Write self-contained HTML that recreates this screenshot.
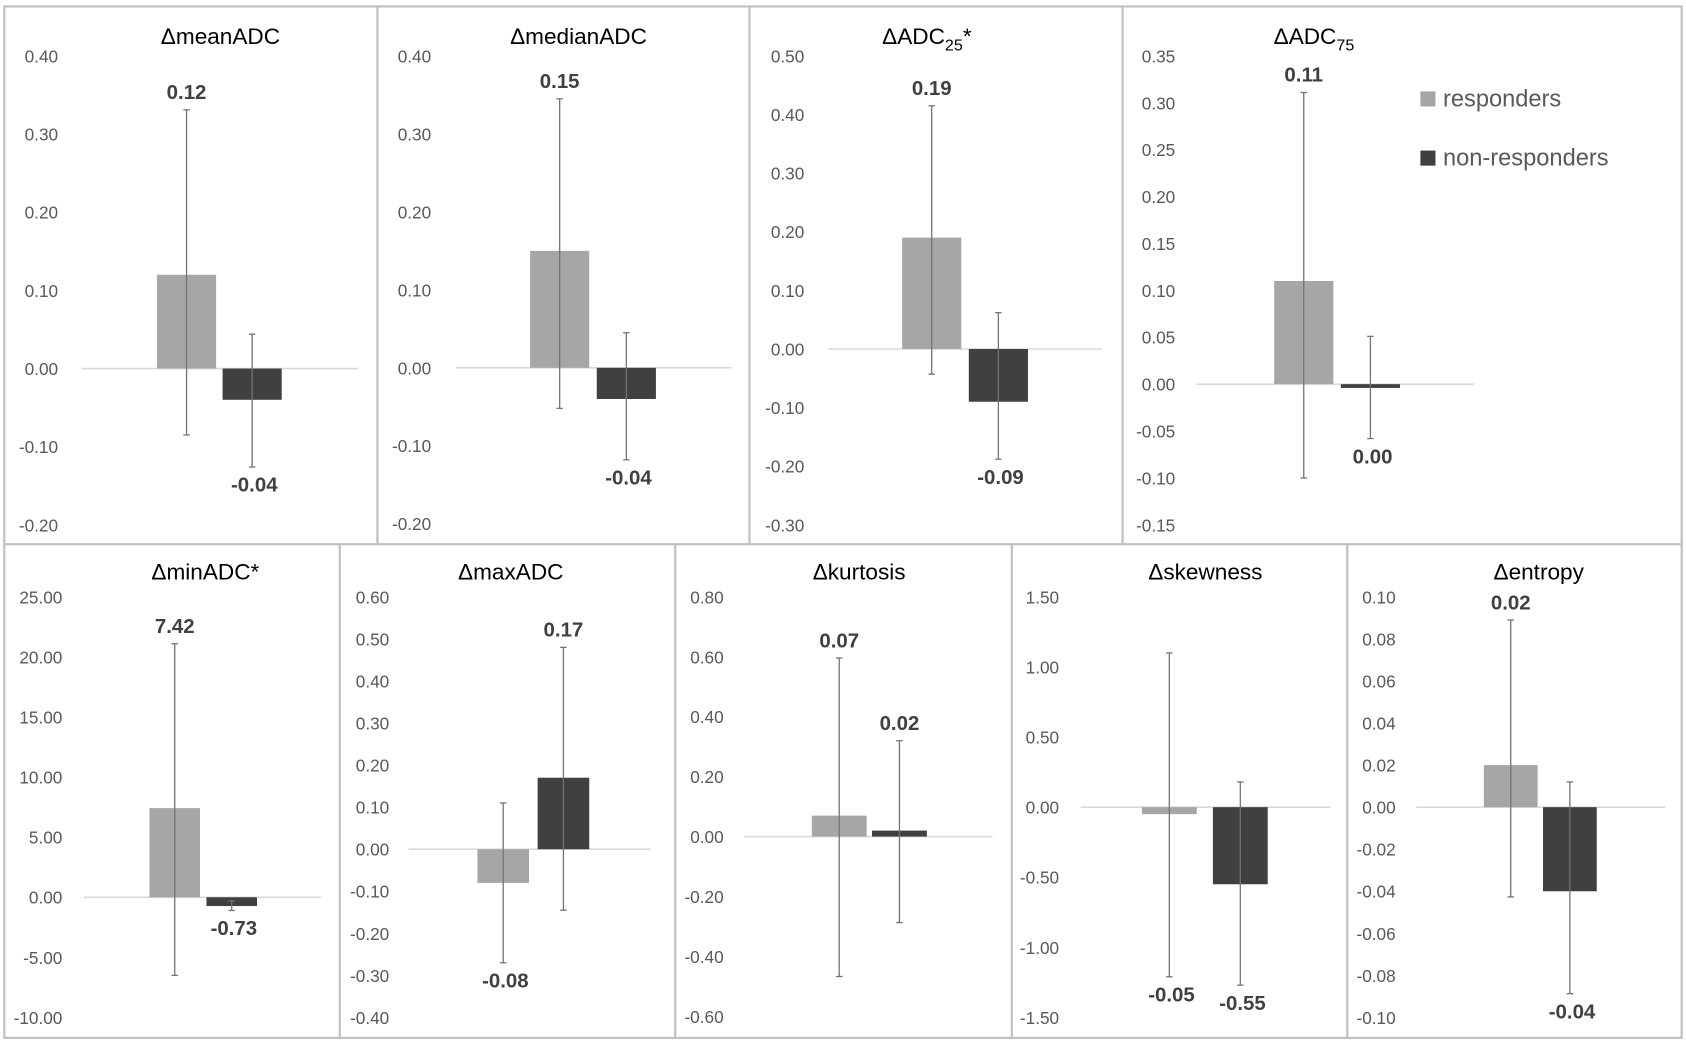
<!DOCTYPE html>
<html><head><meta charset="utf-8">
<style>
html,body{margin:0;padding:0;background:#fff;}
svg{display:block;font-family:"Liberation Sans",sans-serif;}
.tick{font-size:16px;fill:#595959;}
.val{font-size:19px;font-weight:bold;fill:#404040;}
.ttl{font-size:21px;fill:#000;}
</style></head>
<body>
<svg id="chart" width="1686" height="1040" viewBox="0 0 1568 967" preserveAspectRatio="none" xmlns="http://www.w3.org/2000/svg">
<rect x="0" y="0" width="1568" height="967" fill="#fff"/>
<g id="frame" stroke="#bfbfbf" stroke-width="2" fill="none">
<rect x="4" y="6" width="1560" height="959"/>
<line x1="4" y1="506" x2="1564" y2="506"/>
<line x1="351" y1="6" x2="351" y2="506"/>
<line x1="697" y1="6" x2="697" y2="506"/>
<line x1="1044" y1="6" x2="1044" y2="506"/>
<line x1="316" y1="506" x2="316" y2="965"/>
<line x1="628" y1="506" x2="628" y2="965"/>
<line x1="941" y1="506" x2="941" y2="965"/>
<line x1="1253" y1="506" x2="1253" y2="965"/>
</g>
<g id="legend">
<rect x="1321" y="85" width="14" height="14" fill="#a6a6a6"/>
<text x="1342" y="99" font-size="22" fill="#595959">responders</text>
<rect x="1321" y="140" width="14" height="14" fill="#404040"/>
<text x="1342" y="154" font-size="22" fill="#595959">non-responders</text>
</g>
</svg>
<script>
// ---- data ----
const categories = ["meanADC","medianADC","ADC25","ADC75","minADC","maxADC","kurtosis","skewness","entropy"];
const respValues = [0.12, 0.15, 0.19, 0.11, 7.42, -0.08, 0.07, -0.05, 0.02];
const nonValues  = [-0.04, -0.04, -0.09, -0.004, -0.73, 0.17, 0.02, -0.55, -0.04];
const respErrHi  = [0.331, 0.345, 0.415, 0.311, 21.1, 0.11, 0.596, 1.10, 0.089];
const respErrLo  = [-0.085, -0.052, -0.043, -0.100, -6.5, -0.27, -0.467, -1.21, -0.0427];
const nonErrHi   = [0.044, 0.045, 0.062, 0.051, -0.3, 0.48, 0.32, 0.18, 0.012];
const nonErrLo   = [-0.126, -0.118, -0.188, -0.058, -1.1, -0.145, -0.287, -1.27, -0.0887];
const tickMin    = [-0.20, -0.20, -0.30, -0.15, -10, -0.40, -0.60, -1.50, -0.10];
const tickMax    = [0.40, 0.40, 0.50, 0.35, 25, 0.60, 0.80, 1.50, 0.10];
const tickStep   = [0.10, 0.10, 0.10, 0.05, 5, 0.10, 0.20, 0.50, 0.02];

// ---- layout (pixel geometry, not data) ----
const layout = [
 {top:52,bot:488,labX:54,baseL:76,baseR:333,bar1:146,bar2:207,bw:55,titleX:205,titleY:41},
 {top:52,bot:487,labX:401,baseL:424,baseR:680,bar1:493,bar2:555,bw:55,titleX:538,titleY:41},
 {top:52,bot:488,labX:748,baseL:770,baseR:1025,bar1:839,bar2:901,bw:55,titleX:862,titleY:41},
 {top:52,bot:488,labX:1093,baseL:1113,baseR:1371,bar1:1185,bar2:1247,bw:55,titleX:1222,titleY:41},
 {top:555,bot:946,labX:58,baseL:78,baseR:299,bar1:139,bar2:192,bw:47,titleX:191,titleY:539},
 {top:555,bot:946,labX:362,baseL:380,baseR:605,bar1:444,bar2:500,bw:48,titleX:475,titleY:539},
 {top:555,bot:945,labX:673,baseL:692,baseR:923,bar1:755,bar2:811,bw:51,titleX:799,titleY:539},
 {top:555,bot:946,labX:985,baseL:1005,baseR:1237,bar1:1062,bar2:1128,bw:51,titleX:1121,titleY:539},
 {top:555,bot:946,labX:1298,baseL:1317,baseR:1549,bar1:1380,bar2:1435,bw:50,titleX:1431,titleY:539}
];
const NS="http://www.w3.org/2000/svg";
const svg=document.getElementById('chart');
function mk(tag,attrs,parent){const e=document.createElementNS(NS,tag);for(const k in attrs)e.setAttribute(k,attrs[k]);parent.appendChild(e);return e;}
function fmt(v){const s=Math.abs(v)<0.005?"0.00":v.toFixed(2);return s;}

categories.forEach((cat,i)=>{
  const L=layout[i];
  const g=mk('g',{},svg);
  
  
  const y=v=>L.top+(tickMax[i]-v)/(tickMax[i]-tickMin[i])*(L.bot-L.top);
  // title
  const t=mk('text',{x:L.titleX,y:L.titleY,'text-anchor':'middle',class:'ttl'},g);
  
  
  const m=cat.match(/^ADC(\d+)$/);
  if(m){
    t.appendChild(document.createTextNode('\u0394ADC'));
    const s=mk('tspan',{'font-size':'15','dy':'6'},t);s.textContent=m[1];
    if(cat==='ADC25'){const st=mk('tspan',{'dy':'-6'},t);st.textContent='*';}
  } else {
    t.textContent='\u0394'+cat+(cat==='minADC'?'*':'');
  }
  // ticks
  const n=Math.round((tickMax[i]-tickMin[i])/tickStep[i]);
  for(let k=0;k<=n;k++){
    const v=tickMin[i]+k*tickStep[i];
    const tl=mk('text',{x:L.labX,y:y(v)+6,'text-anchor':'end',class:'tick'},g);
    
    
    tl.textContent=v.toFixed(2);
  }
  // baseline
  const bl=mk('line',{x1:L.baseL,x2:L.baseR,y1:y(0),y2:y(0),stroke:'#d9d9d9','stroke-width':1.5},g);
  
  
  // bars
  const series=[
    {v:respValues[i],hi:respErrHi[i],lo:respErrLo[i],x:L.bar1,c:'#a6a6a6',n:'responders'},
    {v:nonValues[i],hi:nonErrHi[i],lo:nonErrLo[i],x:L.bar2,c:'#404040',n:'non-responders'}
  ];
  series.forEach(s=>{
    const y0=y(0),y1=y(s.v);
    const r=mk('rect',{x:s.x,y:Math.min(y0,y1),width:L.bw,height:Math.max(Math.abs(y1-y0),1),fill:s.c},g);
    
    
    const cx=s.x+L.bw/2;
    const eg=mk('g',{stroke:'#737373','stroke-width':1.2},g);
    
    
    mk('line',{x1:cx,x2:cx,y1:y(s.hi),y2:y(s.lo)},eg);
    mk('line',{x1:cx-3,x2:cx+3,y1:y(s.hi),y2:y(s.hi)},eg);
    mk('line',{x1:cx-3,x2:cx+3,y1:y(s.lo),y2:y(s.lo)},eg);
    const ly=s.v>=0?y(s.hi)-10:y(s.lo)+23;
    const vl=mk('text',{x:cx+(s.v>=0?0:2),y:ly,'text-anchor':'middle',class:'val'},g);
    
    
    vl.textContent=fmt(s.v);
  });
});
</script>
</body></html>
